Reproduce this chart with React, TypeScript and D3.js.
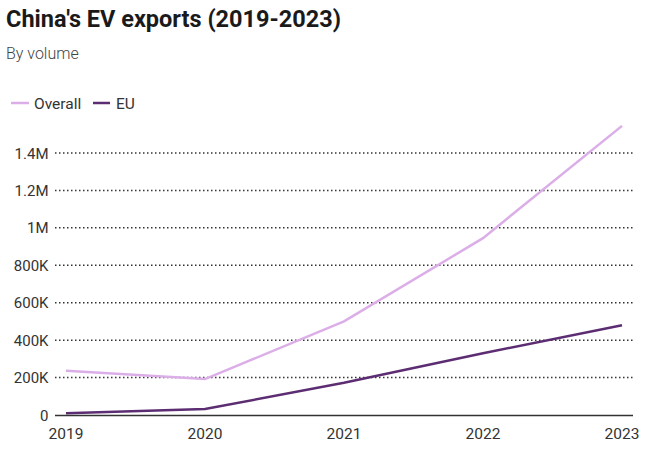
import React from "react";
import * as d3 from "d3";

const years = [2019, 2020, 2021, 2022, 2023];
const overall = [237000, 192000, 500000, 945000, 1545000];
const eu = [10000, 32000, 172000, 330000, 480000];
const yTicks = [0, 200000, 400000, 600000, 800000, 1000000, 1200000, 1400000];
const yTickLabels = ["0", "200K", "400K", "600K", "800K", "1M", "1.2M", "1.4M"];

const W = 650;
const H = 451;
const font = "Roboto, 'Noto Sans', sans-serif";

export default function App() {
  const x = d3.scaleLinear().domain([2019, 2023]).range([66, 622]);
  const y = d3.scaleLinear().domain([0, 1400000]).range([415, 153]);
  const line = d3
    .line<number>()
    .x((_, i) => x(years[i]))
    .y((d) => y(d));

  return (
    <svg
      width={W}
      height={H}
      style={{ position: "absolute", left: 0, top: 0, background: "#fff" }}
      fontFamily={font}
    >
      <text x={6} y={27} fontSize={23.5} fontWeight={700} fill="#1a1a1a">
        China's EV exports (2019-2023)
      </text>
      <text x={6} y={59} fontSize={16} fontWeight={300} fill="#444">
        By volume
      </text>
      <g>
        <line x1={11} x2={29} y1={103} y2={103} stroke="#dcaee8" strokeWidth={2.5} />
        <text x={34} y={108.5} fontSize={15.5} fill="#333">
          Overall
        </text>
        <line x1={93} x2={110} y1={103} y2={103} stroke="#5c2d72" strokeWidth={2.5} />
        <text x={116} y={108.5} fontSize={15.5} fill="#333">
          EU
        </text>
      </g>
      {yTicks.map((t, i) => (
        <g key={t}>
          {t !== 0 && (
            <line
              x1={55}
              x2={633}
              y1={y(t)}
              y2={y(t)}
              stroke="#333"
              strokeWidth={1.5}
              strokeDasharray="1.5 2.5"
            />
          )}
          <text
            x={48.5}
            y={y(t) + 5.5}
            fontSize={15}
            textAnchor="end"
            fill="#333"
          >
            {yTickLabels[i]}
          </text>
        </g>
      ))}
      <path d={line(overall) || ""} fill="none" stroke="#dcaee8" strokeWidth={2.5} />
      <path d={line(eu) || ""} fill="none" stroke="#5c2d72" strokeWidth={2.5} />
      <line x1={55} x2={633} y1={415.5} y2={415.5} stroke="#333" strokeWidth={1.5} />
      {years.map((yr) => (
        <text
          key={yr}
          x={x(yr)}
          y={438.5}
          fontSize={15.5}
          textAnchor="middle"
          fill="#333"
        >
          {yr}
        </text>
      ))}
    </svg>
  );
}
